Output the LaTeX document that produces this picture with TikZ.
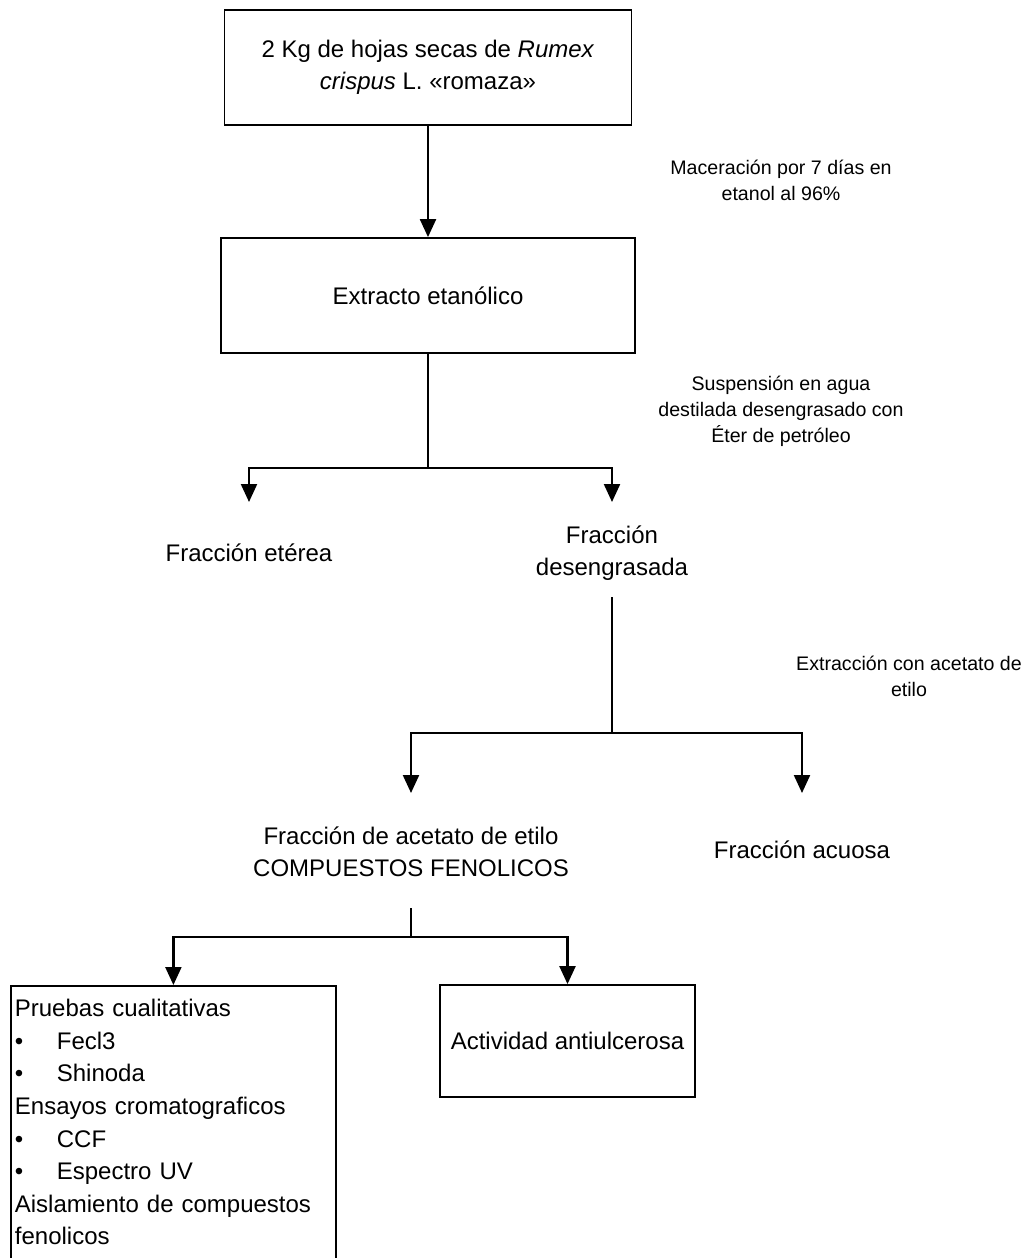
\documentclass[tikz,border=0pt]{standalone}
\usepackage{fontspec}
\setmainfont{Liberation Sans}
\usetikzlibrary{arrows.meta}

\begin{document}
\begin{tikzpicture}[x=0.5pt,y=-0.5pt,
  box/.style={draw,line width=0.9pt,inner sep=0pt,align=center,font=\fontsize{12}{16}\selectfont},
  lbl/.style={align=center,font=\fontsize{12}{16}\selectfont},
  note/.style={align=center,font=\fontsize{9.8}{13}\selectfont},
  conn/.style={line width=1.1pt},
  arr/.style={conn,-{Triangle[length=9pt,width=8pt]}}]
  \useasboundingbox (0,0) rectangle (1029,1258);
  \clip (0,0) rectangle (1029,1258);
  \node[box,minimum width=203.5pt,minimum height=57.5pt] (hojas) at (428,67.5) {2 Kg de hojas secas de \textit{Rumex}\\\textit{crispus} L. «romaza»};
  \node[box,minimum width=207pt,minimum height=57.5pt] (extracto) at (428,295.5) {Extracto etanólico};
  \node[note] (macer) at (781,180) {Maceración por 7 días en\\etanol al 96\%};
  \draw[arr] (hojas) -- (extracto);
  \node[note] (susp) at (781,411) {Suspensión en agua\\destilada desengrasado con\\Éter de petróleo};
  \coordinate (j1) at (428,468);
  \coordinate (e1) at (249,502);
  \coordinate (e2) at (612,502);
  \draw[conn] (extracto) -- (j1);
  \draw[arr] (j1) -| (e1);
  \draw[arr] (j1) -| (e2);
  \node[lbl] (eterea) at (249,553) {Fracción etérea};
  \node[lbl] (desgr) at (612,553) {Fracción\\desengrasada};
  \coordinate (j2) at (612,733);
  \draw[conn,shorten <=5pt] (desgr) -- (j2);
  \node[note] (extrac) at (909,676) {Extracción con acetato de\\etilo};
  \coordinate (e3) at (411,793);
  \coordinate (e4) at (802,793);
  \draw[arr] (j2) -| (e3);
  \draw[arr] (j2) -| (e4);
  \node[lbl] (acetato) at (411,852) {Fracción de acetato de etilo\\COMPUESTOS FENOLICOS};
  \node[lbl] (acuosa) at (802,850) {Fracción acuosa};
  \coordinate (j3) at (411,937);
  \draw[conn,shorten <=12pt] (acetato) -- (j3);
  \node[box,anchor=north west,align=left,text width=158.5pt,inner xsep=2pt,inner ysep=6.7pt,font=\fontsize{12}{16.3}\selectfont] (pruebas) at (10,985) {Pruebas cualitativas\\\makebox[21pt][l]{•}Fecl3\\\makebox[21pt][l]{•}Shinoda\\Ensayos cromatograficos\\\makebox[21pt][l]{•}CCF\\\makebox[21pt][l]{•}Espectro UV\\Aislamiento de compuestos\\fenolicos\\\mbox{}};
  \node[box,minimum width=127.5pt,minimum height=56pt] (actividad) at (567.5,1041) {Actividad antiulcerosa};
  \draw[arr] (j3) -| (pruebas.north);
  \draw[arr] (j3) -| (actividad.north);
\end{tikzpicture}
\end{document}
